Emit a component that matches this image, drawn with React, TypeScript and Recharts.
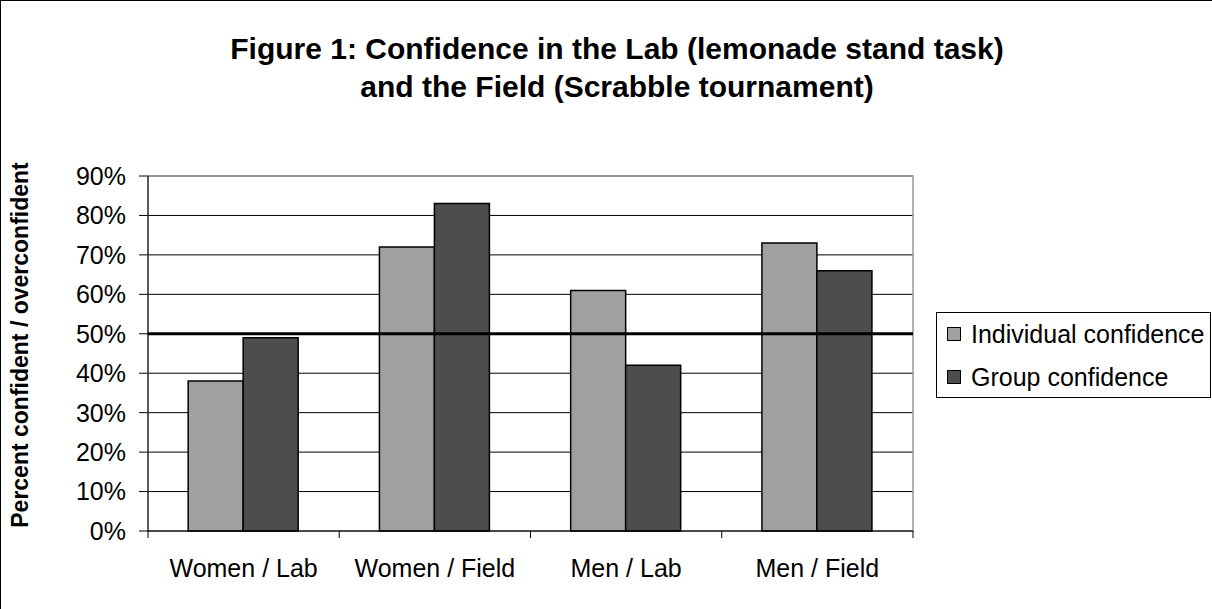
import { BarChart, Bar, XAxis, YAxis, CartesianGrid, ReferenceLine, ReferenceArea } from 'recharts';

const categories = ['Women / Lab', 'Women / Field', 'Men / Lab', 'Men / Field'];
const individual = [38, 72, 61, 73];
const group = [49, 83, 42, 66];
const yTicks = [0, 10, 20, 30, 40, 50, 60, 70, 80, 90];

const seriesNames = ['Individual confidence', 'Group confidence'];
const seriesColors = ['#a0a0a0', '#4d4d4d'];

const FONT = '"Liberation Sans", Arial, sans-serif';

const data = categories.map((name, i) => ({
  name,
  individual: individual[i],
  group: group[i],
}));

// x ticks: label in the middle, tick marks on the category edges (Excel style)
function CategoryTick(props: any) {
  const { x, y, payload, index, visibleTicksCount } = props;
  const half = payload && payload.offset ? payload.offset : 95.6;
  const axisY = y - 30;
  return (
    <g>
      <line x1={x - half} y1={axisY} x2={x - half} y2={axisY + 7} stroke="#000" />
      {index === visibleTicksCount - 1 && (
        <line x1={x + half} y1={axisY} x2={x + half} y2={axisY + 7} stroke="#000" />
      )}
      <text x={x} y={y - 2} dy="0.71em" textAnchor="middle" fontSize={25} fill="#000" fontFamily={FONT}>
        {payload.value}
      </text>
    </g>
  );
}

export default function App() {
  return (
    <div
      style={{
        position: 'absolute',
        left: 0,
        top: 0,
        width: 1212,
        height: 609,
        background: '#fff',
        borderTop: '1px solid #000',
        borderLeft: '1px solid #000',
        boxSizing: 'border-box',
        fontFamily: FONT,
      }}
    >
      <div
        style={{
          position: 'absolute',
          top: 29,
          left: 0,
          width: 1232,
          textAlign: 'center',
          fontWeight: 'bold',
          fontSize: 30,
          lineHeight: '38px',
        }}
      >
        Figure 1: Confidence in the Lab (lemonade stand task)
        <br />
        and the Field (Scrabble tournament)
      </div>

      <div style={{ position: 'absolute', left: -1, top: -1 }}>
        <BarChart
          width={1212}
          height={609}
          data={data}
          margin={{ top: 176, right: 299, bottom: 0, left: 0 }}
          barCategoryGap="21%"
          barGap={0}
        >
          <ReferenceArea y1={0} y2={90} fill="none" stroke="#999" strokeWidth={1.5} />
          <CartesianGrid vertical={false} stroke="#000" strokeWidth={1} />
          <XAxis
            dataKey="name"
            height={78}
            tickLine={false}
            tickSize={6}
            tickMargin={24}
            axisLine={{ stroke: '#000' }}
            tick={<CategoryTick />}
            interval={0}
          />
          <YAxis
            width={148}
            domain={[0, 90]}
            ticks={yTicks}
            interval={0}
            tickFormatter={(v) => `${v}%`}
            tick={{ fontSize: 25, fill: '#000', fontFamily: FONT }}
            tickSize={9}
            tickMargin={13}
            axisLine={{ stroke: '#000' }}
            tickLine={{ stroke: '#000' }}
            label={{
              content: () => (
                <text
                  x={20}
                  y={345}
                  transform="rotate(-90, 20, 345)"
                  textAnchor="middle"
                  dominantBaseline="central"
                  fontSize={23}
                  fontWeight="bold"
                  fontFamily={FONT}
                  fill="#000"
                >
                  Percent confident / overconfident
                </text>
              ),
            }}
          />
          <Bar dataKey="individual" fill={seriesColors[0]} stroke="#000" strokeWidth={1.5} isAnimationActive={false} />
          <Bar dataKey="group" fill={seriesColors[1]} stroke="#000" strokeWidth={1.5} isAnimationActive={false} />
          <ReferenceLine y={50} stroke="#000" strokeWidth={3} />
        </BarChart>
      </div>

      <div
        style={{
          position: 'absolute',
          left: 935,
          top: 311,
          width: 275,
          height: 86,
          border: '1px solid #000',
          boxSizing: 'border-box',
          background: '#fff',
        }}
      >
        {seriesNames.map((name, i) => (
          <div
            key={name}
            style={{
              position: 'absolute',
              left: 10,
              top: i === 0 ? 7 : 50,
              height: 28,
              display: 'flex',
              alignItems: 'center',
              fontSize: 25,
              whiteSpace: 'nowrap',
            }}
          >
            <span
              style={{
                display: 'inline-block',
                width: 12,
                height: 12,
                background: seriesColors[i],
                border: '1px solid #000',
                marginRight: 10,
              }}
            />
            {name}
          </div>
        ))}
      </div>
    </div>
  );
}
